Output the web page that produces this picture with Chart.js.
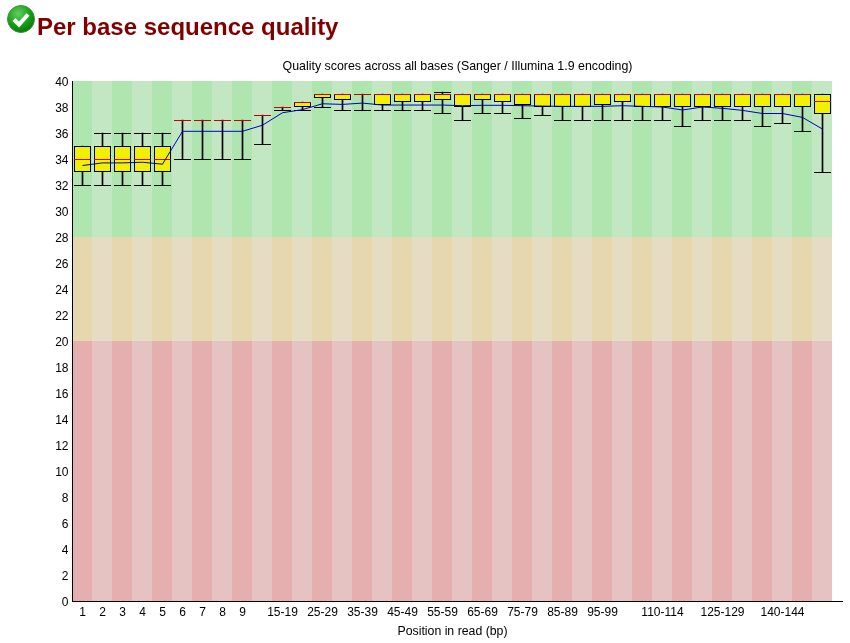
<!DOCTYPE html>
<html>
<head>
<meta charset="utf-8">
<title>Per base sequence quality</title>
<script src="https://cdn.jsdelivr.net/npm/chart.js@4"></script>
<style>
  html, body { margin: 0; padding: 0; background: #fff; overflow: hidden; }
  #wrap { position: relative; width: 850px; height: 643px; }
  #chart { position: absolute; left: 0; top: 0; }
  #icon { position: absolute; left: 6px; top: 4px; }
  h2 { position: absolute; left: 37px; top: 13px; margin: 0; color: #800000;
       font: bold 24px "Liberation Sans", Arial, sans-serif; white-space: nowrap; }
</style>
</head>
<body>
<div id="wrap">
  <canvas id="chart" width="850" height="643"></canvas>
  <svg id="icon" width="30" height="30" viewBox="0 0 30 30">
    <defs>
      <radialGradient id="ball" cx="40%" cy="30%" r="75%">
        <stop offset="0" stop-color="#5fd05f"/>
        <stop offset="0.6" stop-color="#12a012"/>
        <stop offset="1" stop-color="#0a700a"/>
      </radialGradient>
    </defs>
    <circle cx="15" cy="15" r="13.5" fill="url(#ball)" stroke="#4d8a4d" stroke-width="1"/>
    <path d="M8 15.5 L13 20.5 L22 10.5" fill="none" stroke="#fff" stroke-width="4"/>
  </svg>
  <h2>Per base sequence quality</h2>
</div>
<script>
'use strict';
var categories = ['1', '2', '3', '4', '5', '6', '7', '8', '9', '10-14', '15-19', '20-24', '25-29',
  '30-34', '35-39', '40-44', '45-49', '50-54', '55-59', '60-64', '65-69', '70-74', '75-79',
  '80-84', '85-89', '90-94', '95-99', '100-104', '105-109', '110-114', '115-119', '120-124',
  '125-129', '130-134', '135-139', '140-144', '145-149', '150-151'];
var tickLabels = ['1', '2', '3', '4', '5', '6', '7', '8', '9', '15-19', '25-29', '35-39', '45-49',
  '55-59', '65-69', '75-79', '85-89', '95-99', '110-114', '125-129', '140-144'];
var lowValues = [32, 32, 32, 32, 32, 34, 34, 34, 34, 35.15, 37.77, 37.77, 38, 37.77, 37.77, 37.77,
  37.77, 37.77, 37.54, 37, 37.54, 37.54, 37.15, 37.38, 37, 37, 37, 37, 37, 37, 36.54, 37, 37, 37,
  36.54, 36.77, 36.15, 33];
var q1Values = [33, 33, 33, 33, 33, 37, 37, 37, 37, 37.38, 38, 38, 38.69, 38.54, 39, 38.15, 38.38,
  38.38, 38.54, 38, 38.54, 38.38, 38.15, 38, 38, 38, 38.15, 38.38, 38, 38, 38, 38, 38, 38, 38, 38,
  38, 37.46];
var medianValues = [34, 34, 34, 34, 34, 37, 37, 37, 37, 37.38, 38, 38.38, 39, 39, 39, 39, 39, 39,
  39, 39, 39, 39, 39, 39, 39, 39, 39, 39, 39, 39, 39, 39, 39, 39, 39, 39, 39, 38.46];
var q3Values = [35, 35, 35, 35, 35, 37, 37, 37, 37, 37.38, 38, 38.38, 39, 39, 39, 39, 39, 39, 39,
  39, 39, 39, 39, 39, 39, 39, 39, 39, 39, 39, 39, 39, 39, 39, 39, 39, 39, 39];
var highValues = [35, 36, 36, 36, 36, 37, 37, 37, 37, 37.38, 38, 38.38, 39, 39, 39, 39, 39, 39,
  39.15, 39, 39, 39, 39, 39, 39, 39, 39, 39, 39, 39, 39, 39, 39, 39, 39, 39, 39, 39];
var meanValues = [33.5, 33.7, 33.7, 33.75, 33.6, 36.13, 36.13, 36.13, 36.13, 36.6, 37.56, 37.8,
  38.25, 38.2, 38.3, 38.15, 38.15, 38.15, 38.15, 38.1, 38.13, 38.13, 38.1, 38.07, 38.05, 38.05,
  38.05, 38.1, 38.05, 38, 37.77, 38, 37.9, 37.74, 37.5, 37.5, 37.2, 36.3];
var yTicks = [0, 2, 4, 6, 8, 10, 12, 14, 16, 18, 20, 22, 24, 26, 28, 30, 32, 34, 36, 38, 40];
var zoneLimits = [0, 20, 28, 40];
var zoneDark = ['rgb(230,175,175)', 'rgb(230,215,175)', 'rgb(175,230,175)'];
var zoneLight = ['rgb(230,195,195)', 'rgb(230,220,195)', 'rgb(195,230,195)'];

var FONT = '"Liberation Sans", Arial, sans-serif';

// one pixel row in the lower half of a small canvas, so marks stay crisp at whole pixels
function dash(color) {
  var c = document.createElement('canvas');
  c.width = 17;
  c.height = 2;
  var ctx = c.getContext('2d');
  ctx.fillStyle = color;
  ctx.fillRect(0, 1, 17, 1);
  return c;
}

var bandsPlugin = {
  id: 'bands',
  afterLayout: function(chart) {
    // the title is centred over the axis line, not over the canvas
    chart.titleBlock.left = 65;
  },
  beforeDatasetsDraw: function(chart) {
    var ctx = chart.ctx, x = chart.scales.x, y = chart.scales.y;
    ctx.save();
    categories.forEach(function(c, i) {
      var left = Math.floor(x.getPixelForValue(i) - 10);
      for (var z = 0; z < zoneDark.length; z++) {
        var top = y.getPixelForValue(zoneLimits[z + 1]);
        var bottom = y.getPixelForValue(zoneLimits[z]);
        ctx.fillStyle = i % 2 === 0 ? zoneDark[z] : zoneLight[z];
        ctx.fillRect(left, top, 20, bottom - top);
      }
    });
    ctx.restore();
  },
  afterDraw: function(chart) {
    // the x axis line runs 10px past the last band
    var ctx = chart.ctx, a = chart.chartArea;
    ctx.save();
    ctx.fillStyle = '#000';
    ctx.fillRect(72, a.top, 1, a.bottom - a.top + 1);
    ctx.fillRect(72, a.bottom, 771, 1);
    ctx.restore();
  }
};

function marks(data, color, order) {
  return {
    type: 'line',
    data: data,
    showLine: false,
    pointStyle: dash(color),
    pointRadius: 8,
    order: order
  };
}

new Chart(document.getElementById('chart'), {
  data: {
    labels: categories,
    datasets: [
      {
        type: 'bar',
        data: lowValues.map(function(v, i) { return [v, highValues[i]]; }),
        backgroundColor: '#000',
        borderWidth: 0,
        barThickness: 1,
        grouped: false,
        order: 5
      },
      marks(lowValues, '#000', 4),
      marks(highValues, '#000', 4),
      {
        type: 'bar',
        data: q1Values.map(function(v, i) { return [v, q3Values[i]]; }),
        backgroundColor: 'rgb(240,240,0)',
        borderColor: '#000',
        borderWidth: 1,
        borderSkipped: false,
        barPercentage: 0.85,
        categoryPercentage: 1,
        grouped: false,
        order: 3
      },
      marks(medianValues, 'rgb(200,0,0)', 2),
      {
        type: 'line',
        data: meanValues,
        borderColor: 'rgb(0,0,200)',
        borderWidth: 1,
        pointRadius: 0,
        tension: 0,
        order: 1
      }
    ]
  },
  options: {
    responsive: false,
    animation: false,
    devicePixelRatio: 1,
    plugins: {
      legend: { display: false },
      tooltip: { enabled: false },
      title: {
        display: true,
        text: 'Quality scores across all bases (Sanger / Illumina 1.9 encoding)',
        color: '#000',
        font: { family: FONT, size: 12.4, weight: 'normal' },
        padding: { top: 59.5, bottom: 6.62 }
      }
    },
    scales: {
      x: {
        grid: { display: false, tickLength: 0 },
        border: { display: false },
        afterFit: function(s) { s.height = 42; },
        ticks: {
          autoSkip: false,
          maxRotation: 0,
          padding: 4,
          color: '#000',
          font: { family: FONT, size: 12 },
          callback: function(v, i) {
            return tickLabels.indexOf(categories[i]) >= 0 ? categories[i] : '';
          }
        },
        title: {
          display: true,
          text: 'Position in read (bp)',
          color: '#000',
          font: { family: FONT, size: 12.3 },
          padding: { top: 0, bottom: 4 }
        }
      },
      y: {
        min: 0,
        max: 40,
        grid: { display: false, tickLength: 0 },
        border: { display: false },
        afterFit: function(s) { s.width = 72.5; },
        afterBuildTicks: function(s) {
          s.ticks = yTicks.map(function(v) { return { value: v }; });
        },
        ticks: {
          autoSkip: false,
          padding: 4,
          labelOffset: 2,
          color: '#000',
          font: { family: FONT, size: 12 }
        }
      },
      // empty axis only keeps 17.5px free right of the bands
      gutter: {
        position: 'right',
        display: true,
        grid: { display: false },
        border: { display: false },
        ticks: { display: false },
        afterFit: function(s) { s.width = 17.5; }
      }
    }
  },
  plugins: [bandsPlugin]
});
</script>
</body>
</html>
